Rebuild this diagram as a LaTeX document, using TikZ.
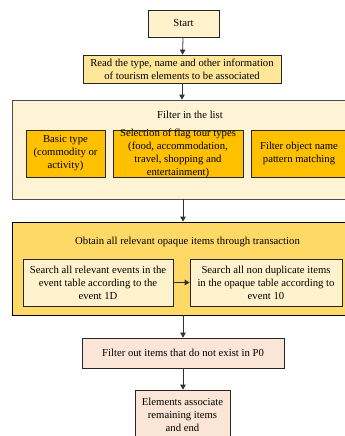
\documentclass[tikz,border=0pt]{standalone}
\usepackage{fontspec}
\setmainfont{Liberation Serif}
\usetikzlibrary{arrows.meta}
\definecolor{paleyellow}{HTML}{FFF2CC}
\definecolor{midyellow}{HTML}{FFE699}
\definecolor{creamback}{HTML}{FFF3D6}
\definecolor{amber}{HTML}{FFC000}
\definecolor{goldback}{HTML}{FFD966}
\definecolor{peach}{HTML}{FBE5D6}
\tikzset{
    stepbox/.style={draw=black!85, line width=0.7pt, align=center, inner xsep=2pt, inner ysep=1pt,
        font=\fontsize{10.7}{13}\selectfont},
    groupbox/.style={draw=black!70, line width=0.8pt, minimum width=342, inner sep=0pt},
    title/.style={font=\fontsize{10.7}{13}\selectfont},
    flow/.style={-{Triangle[length=5pt,width=5.5pt]}, line width=0.8pt, draw=black!80}
}

\begin{document}
\begin{tikzpicture}[x=1pt,y=-1pt]
                \useasboundingbox (0,0) rectangle (345,436);
                
                % Top steps
                \node[stepbox, fill=paleyellow, minimum width=71, minimum height=27] (start) at (183.5,23.5) {Start};
                \node[stepbox, fill=midyellow, minimum width=198, minimum height=28] (read) at (182,69) {Read the type, name and other information\\of tourism elements to be associated};
                
                % Filter group
                \node[groupbox, fill=creamback, minimum height=99] (filter) at (183,149.5) {};
                \node[title] (filterTitle) at (190,115) {Filter in the list};
                \node[stepbox, fill=amber, minimum width=79, minimum height=47] (basic) at (65.5,153.5) {Basic type\\(commodity or\\activity)};
                \node[stepbox, fill=amber, minimum width=130, minimum height=47, inner ysep=-1.5pt] (flag) at (178,153.5) {Selection of flag tour types\\(food, accommodation,\\travel, shopping and\\entertainment)};
                \node[stepbox, fill=amber, minimum width=96, minimum height=47] (pattern) at (299,153.5) {Filter object name\\pattern matching};
                
                % Transaction group
                \node[groupbox, draw=black, fill=goldback, minimum height=93] (obtain) at (183,268.5) {};
                \node[title] (obtainTitle) at (187.5,242) {Obtain all relevant opaque items through transaction};
                \node[stepbox, fill=paleyellow, minimum width=150, minimum height=47] (events) at (98,282.5) {Search all relevant events in the\\event table according to the\\event 1D};
                \node[stepbox, fill=paleyellow, minimum width=152, minimum height=47] (items) at (266,282.5) {Search all non duplicate items\\in the opaque table according to\\event 10};
                
                % Bottom steps
                \node[stepbox, fill=peach, minimum width=202, minimum height=30] (filterOut) at (183,353) {Filter out items that do not exist in P0};
                \node[stepbox, fill=peach, minimum width=95, minimum height=49] (finish) at (182.5,414.5) {Elements associate\\remaining items\\and end};
                
                % Arrows
                \draw[flow] (start) -- (read);
                \draw[flow] (read.south) -- (read.south |- filter.north);
                \draw[flow] (filter) -- (obtain);
                \draw[flow] (events) -- (items);
                \draw[flow] (obtain) -- (filterOut);
                \draw[flow] (filterOut) -- (finish.north -| filterOut.south);
\end{tikzpicture}
\end{document}
